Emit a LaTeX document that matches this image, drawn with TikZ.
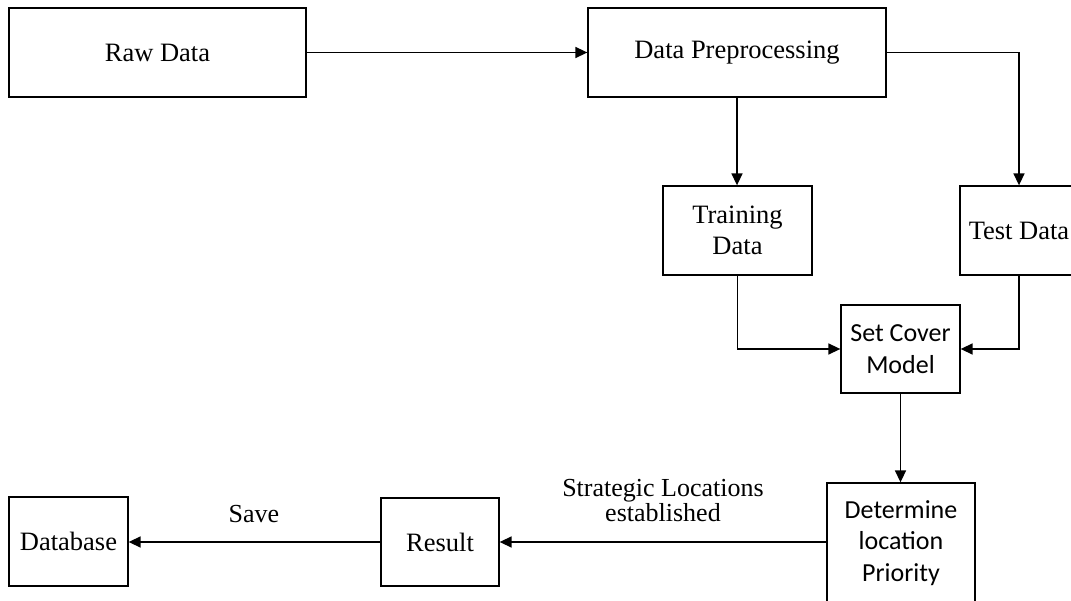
\documentclass[tikz,border=0pt]{standalone}
\usepackage{fontspec}
\setmainfont{Liberation Serif}
\newfontfamily\calibrifont{Carlito}
\usetikzlibrary{arrows.meta}
\begin{document}
\begin{tikzpicture}[x=1pt,y=-1pt,
  box/.style={draw=black, line width=1.3pt, inner sep=0pt, align=center,
    font=\fontsize{26.5}{31}\selectfont},
  cbox/.style={box, font=\calibrifont\fontsize{26}{31.5}\selectfont},
  flow/.style={line width=1.5pt, -{Triangle[length=12pt,width=11pt]}},
  lbl/.style={font=\fontsize{26}{23}\selectfont, align=center, inner sep=0pt}
]
\useasboundingbox (0,0) rectangle (1071,601);
\clip (0,0) rectangle (1071,601);

% process boxes
\node[box, minimum width=297pt, minimum height=89pt] (raw) at (157.5,52.5) {Raw Data};
\node[box, minimum width=298pt, minimum height=89pt] (prep) at (737,52.5) {Data Preprocessing};
\node[box, minimum width=149pt, minimum height=89pt] (train) at (737.5,230.5) {Training\\Data};
\node[box, minimum width=118pt, minimum height=89pt] (test) at (1019,230.5) {Test Data};
\node[cbox, minimum width=119pt, minimum height=88pt] (setc) at (900.5,349) {Set Cover\\Model};
\node[cbox, minimum width=148pt, minimum height=120pt] (det) at (901,543) {Determine\\location\\Priority};
\node[box, minimum width=118pt, minimum height=88pt] (result) at (440,542) {Result};
\node[box, minimum width=119pt, minimum height=89pt] (db) at (68.5,541.5) {Database};

% connectors
\draw[flow] (raw) -- (prep);
\draw[flow] (prep.south) -- (prep.south |- train.north);
\draw[flow] (prep.east) -| (test.north);
\draw[flow] (train.south) |- (setc.west);
\draw[flow] (test.south) |- (setc.east);
\draw[flow] (setc.south) -- (setc.south |- det.north);
\draw[flow] (result.east -| det.west) -- (result.east);
\draw[flow] (result.west) -- (result.west -| db.east);

% edge labels
\node[lbl, anchor=base] (strat) at (663,521) {Strategic Locations\\established};
\node[lbl, anchor=base] (save) at (254,522) {Save};
\end{tikzpicture}
\end{document}
